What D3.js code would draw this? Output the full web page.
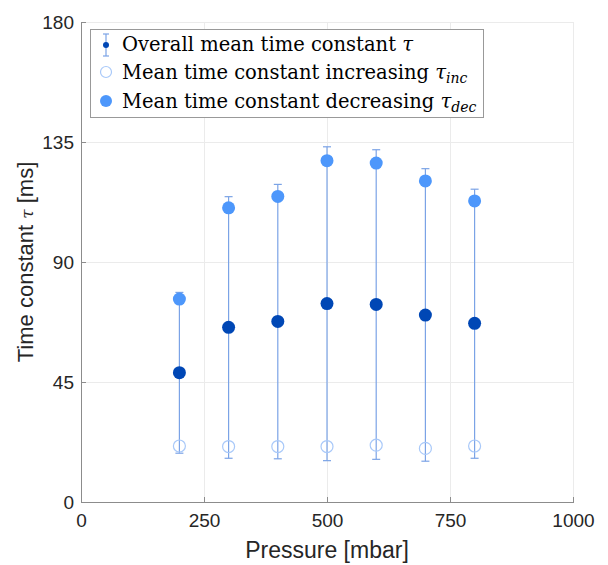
<!DOCTYPE html>
<html><head><meta charset="utf-8">
<script src="https://cdn.jsdelivr.net/npm/d3@7"></script>
<style>body{margin:0;background:#fff}svg{display:block}</style>
</head><body>
<script>
const pressure = [200, 300, 400, 500, 600, 700, 800];
const tauMean  = [48.5, 65.5, 67.7, 74.4, 74.1, 70.1, 67.0];
const tauInc   = [21.0, 20.8, 20.8, 20.8, 21.3, 20.1, 21.0];
const tauDec   = [76.1, 110.3, 114.6, 128.0, 127.1, 120.4, 112.9];
const errLow   = [18.3, 16.4, 16.2, 15.5, 16.0, 15.3, 16.4];
const errHigh  = [78.6, 114.5, 119.1, 133.2, 132.1, 125.0, 117.3];
const xTicks = [0, 250, 500, 750, 1000];
const yTicks = [0, 45, 90, 135, 180];
const legendLabels = ["Overall mean time constant ", "Mean time constant increasing ", "Mean time constant decreasing "];
const legendSubs = ["", "inc", "dec"];

const W = 608, H = 565;
const m = {l: 81, r: 35, t: 22, b: 63};
const svg = d3.select("body").append("svg").attr("width", W).attr("height", H);
const x = d3.scaleLinear().domain([0, 1000]).range([m.l, W - m.r]);
const y = d3.scaleLinear().domain([0, 180]).range([H - m.b, m.t]);

const cDark = "#0047b5", cLight = "#4d97fb", cOpen = "#a9c9f9", cErr = "#7ba3e6";
const gridC = "#ebebeb", axisC = "#8c8c8c", textC = "#262626";

// grid
const g = svg.append("g");
g.selectAll(".gx").data(xTicks).join("line")
  .attr("x1", d => x(d)).attr("x2", d => x(d)).attr("y1", y(0)).attr("y2", y(180))
  .attr("stroke", gridC).attr("stroke-width", 1).attr("shape-rendering", "crispEdges");
g.selectAll(".gy").data(yTicks).join("line")
  .attr("x1", x(0)).attr("x2", x(1000)).attr("y1", d => y(d)).attr("y2", d => y(d))
  .attr("stroke", gridC).attr("stroke-width", 1).attr("shape-rendering", "crispEdges");

// axes
const xAxis = d3.axisBottom(x).tickValues(xTicks).tickFormat(d3.format("d")).tickSizeInner(-5).tickSizeOuter(0).tickPadding(10);
const yAxis = d3.axisLeft(y).tickValues(yTicks).tickFormat(d3.format("d")).tickSizeInner(-5).tickSizeOuter(0).tickPadding(7);
const gx = svg.append("g").attr("transform", `translate(0,${y(0)})`).call(xAxis);
const gy = svg.append("g").attr("transform", `translate(${x(0)},0)`).call(yAxis);
[gx, gy].forEach(a => {
  a.select(".domain").attr("stroke", axisC).attr("shape-rendering", "crispEdges");
  a.selectAll(".tick line").attr("stroke", axisC).attr("shape-rendering", "crispEdges");
  a.selectAll(".tick text").attr("fill", textC).attr("font-family", "Liberation Sans, Arial, sans-serif").attr("font-size", 19);
});
gx.selectAll(".tick text").attr("dy", "0.8em");

// error bars
const idx = d3.range(pressure.length);
const eb = svg.append("g");
eb.selectAll(".v").data(idx).join("line")
  .attr("x1", i => x(pressure[i])).attr("x2", i => x(pressure[i]))
  .attr("y1", i => y(errLow[i])).attr("y2", i => y(errHigh[i]))
  .attr("stroke", cErr).attr("stroke-width", 1.2);
["lo", "hi"].forEach(k => {
  eb.selectAll(".c" + k).data(idx).join("line")
    .attr("x1", i => x(pressure[i]) - 4).attr("x2", i => x(pressure[i]) + 4)
    .attr("y1", i => y(k === "lo" ? errLow[i] : errHigh[i]))
    .attr("y2", i => y(k === "lo" ? errLow[i] : errHigh[i]))
    .attr("stroke", cErr).attr("stroke-width", 1.2);
});

// markers
svg.append("g").selectAll("circle").data(idx).join("circle")
  .attr("cx", i => x(pressure[i])).attr("cy", i => y(tauDec[i])).attr("r", 6.5).attr("fill", cLight);
svg.append("g").selectAll("circle").data(idx).join("circle")
  .attr("cx", i => x(pressure[i])).attr("cy", i => y(tauInc[i])).attr("r", 6)
  .attr("fill", "none").attr("stroke", cOpen).attr("stroke-width", 1.2);
svg.append("g").selectAll("circle").data(idx).join("circle")
  .attr("cx", i => x(pressure[i])).attr("cy", i => y(tauMean[i])).attr("r", 6.5).attr("fill", cDark);

// labels
svg.append("text").attr("x", x(500)).attr("y", 558).attr("text-anchor", "middle")
  .attr("fill", textC).attr("font-family", "Liberation Sans, Arial, sans-serif").attr("font-size", 23)
  .text("Pressure [mbar]");
const yl = svg.append("text").attr("transform", `translate(33,${(y(0) + y(180)) / 2}) rotate(-90)`)
  .attr("text-anchor", "middle").attr("fill", textC)
  .attr("font-family", "Liberation Sans, Arial, sans-serif").attr("font-size", 22);
yl.append("tspan").text("Time constant ");
yl.append("tspan").attr("font-family", "DejaVu Serif, serif").attr("font-style", "italic").attr("font-size", 17).text("τ");
yl.append("tspan").text(" [ms]");

// legend
const lg = svg.append("g");
lg.append("rect").attr("x", 90.5).attr("y", 29.5).attr("width", 393).attr("height", 88)
  .attr("fill", "#fff").attr("stroke", "#999").attr("stroke-width", 1);
const rows = [44, 72, 101];
const lx = 106;
lg.append("line").attr("x1", lx).attr("x2", lx).attr("y1", 34).attr("y2", 56).attr("stroke", cErr).attr("stroke-width", 1.2);
lg.append("line").attr("x1", lx - 3).attr("x2", lx + 3).attr("y1", 34).attr("y2", 34).attr("stroke", cErr).attr("stroke-width", 1.2);
lg.append("line").attr("x1", lx - 3).attr("x2", lx + 3).attr("y1", 56).attr("y2", 56).attr("stroke", cErr).attr("stroke-width", 1.2);
lg.append("circle").attr("cx", lx).attr("cy", 45).attr("r", 3).attr("fill", cDark);
lg.append("circle").attr("cx", lx).attr("cy", rows[1]).attr("r", 5.5).attr("fill", "none").attr("stroke", cOpen).attr("stroke-width", 1.2);
lg.append("circle").attr("cx", lx).attr("cy", rows[2]).attr("r", 6).attr("fill", cLight);
legendLabels.forEach((t, i) => {
  const tx = lg.append("text").attr("x", 122).attr("y", rows[i] + 7)
    .attr("font-family", "DejaVu Serif, serif").attr("font-size", 19.5).attr("fill", "#000");
  tx.append("tspan").text(t);
  tx.append("tspan").attr("font-style", "italic").text("τ");
  if (legendSubs[i]) tx.append("tspan").attr("font-style", "italic").attr("font-size", 14).attr("dy", 4).text(legendSubs[i]);
});
</script>
</body></html>
